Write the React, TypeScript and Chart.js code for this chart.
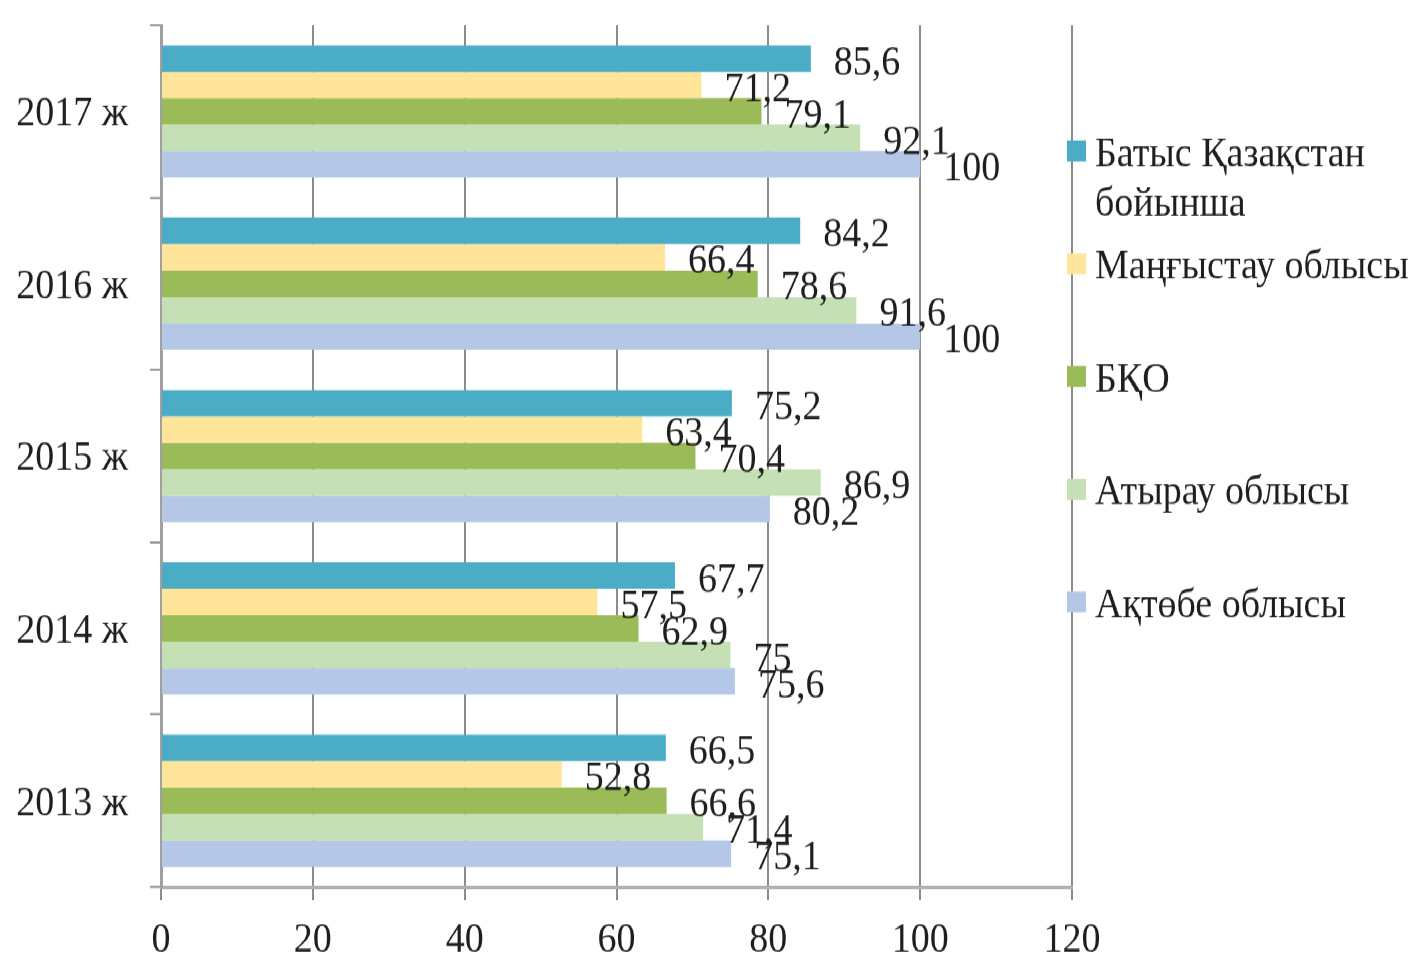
import React, { useEffect, useRef } from 'react';
import { Chart, registerables } from 'chart.js';

Chart.register(...registerables);

const W = 1416;
const H = 867;
const SCALE_Y = 954 / H;

const categories = ['2017 ж', '2016 ж', '2015 ж', '2014 ж', '2013 ж'];
const seriesNames: string[][] = [
  ['Батыс Қазақстан', 'бойынша'],
  ['Маңғыстау облысы'],
  ['БҚО'],
  ['Атырау облысы'],
  ['Ақтөбе облысы'],
];
const batys = [85.6, 84.2, 75.2, 67.7, 66.5];
const mangystau = [71.2, 66.4, 63.4, 57.5, 52.8];
const bko = [79.1, 78.6, 70.4, 62.9, 66.6];
const atyrau = [92.1, 91.6, 86.9, 75, 71.4];
const aktobe = [100, 100, 80.2, 75.6, 75.1];
const seriesValues = [batys, mangystau, bko, atyrau, aktobe];
const colors = ['#4BACC6', '#FFE599', '#9BBB59', '#C5E0B4', '#B4C7E7'];
const xMin = 0;
const xMax = 120;
const xStep = 20;

const FONT = '"Liberation Serif", "Times New Roman", serif';
const FONT_SIZE = 38;
const TEXT_COLOR = '#1e1e1e';

const valueLabels = {
  id: 'valueLabels',
  afterDatasetsDraw(chart: any) {
    const { ctx } = chart;
    ctx.save();
    ctx.font = `${FONT_SIZE}px ${FONT}`;
    ctx.fillStyle = TEXT_COLOR;
    ctx.textAlign = 'left';
    ctx.textBaseline = 'alphabetic';
    chart.data.datasets.forEach((ds: any, di: number) => {
      const meta = chart.getDatasetMeta(di);
      meta.data.forEach((el: any, i: number) => {
        const v = ds.data[i] as number;
        const t = String(v).replace('.', ',');
        ctx.fillText(t, el.x + 23, el.y + 14.5);
      });
    });
    ctx.restore();
  },
};

const sideLegend = {
  id: 'sideLegend',
  afterDraw(chart: any) {
    const { ctx } = chart;
    ctx.save();
    ctx.font = `${FONT_SIZE}px ${FONT}`;
    ctx.textAlign = 'left';
    ctx.textBaseline = 'alphabetic';
    seriesNames.forEach((lines, i) => {
      const cy = (151 + i * 112.75) / SCALE_Y;
      ctx.fillStyle = colors[i];
      ctx.fillRect(1067, cy - 9.5, 19, 19);
      ctx.fillStyle = TEXT_COLOR;
      lines.forEach((ln, j) => {
        ctx.fillText(ln, 1095, cy + 13.6 + (j * 50) / SCALE_Y);
      });
    });
    ctx.restore();
  },
};

export default function App() {
  const ref = useRef<HTMLCanvasElement>(null);
  useEffect(() => {
    const canvas = ref.current!;
    const chart = new Chart(canvas, {
      type: 'bar',
      data: {
        labels: categories,
        datasets: seriesValues.map((vals, i) => ({
          label: seriesNames[i].join(' '),
          data: vals,
          backgroundColor: colors[i],
          borderWidth: 0,
          categoryPercentage: 0.767,
          barPercentage: 1.0,
        })),
      },
      options: {
        indexAxis: 'y',
        responsive: false,
        animation: false,
        events: [],
        layout: { padding: { top: 23, right: W - 1072, left: 0, bottom: 0 } },
        plugins: {
          legend: { display: false },
          tooltip: { enabled: false },
          title: { display: false },
        },
        scales: {
          x: {
            min: xMin,
            max: xMax,
            ticks: {
              stepSize: xStep,
              font: { family: FONT, size: FONT_SIZE },
              color: TEXT_COLOR,
              padding: 14,
              maxRotation: 0,
            },
            grid: {
              color: '#8c8c8c',
              lineWidth: 2,
              tickLength: 12,
              drawOnChartArea: true,
            },
            border: { display: true, color: '#b0b0b0', width: 3 },
            afterFit: (scale: any) => {
              scale.height = H - 806;
              scale.paddingLeft = 0;
              scale.paddingRight = 0;
            },
          },
          y: {
            ticks: {
              font: { family: FONT, size: FONT_SIZE },
              color: TEXT_COLOR,
              padding: 22,
              labelOffset: 3,
            },
            grid: {
              offset: true,
              drawOnChartArea: false,
              color: '#9a9a9a',
              lineWidth: 2,
              tickLength: 11,
            },
            border: { display: true, color: '#a0a0a0', width: 3 },
            afterFit: (scale: any) => {
              scale.width = 161;
              scale.paddingTop = 0;
              scale.paddingBottom = 0;
            },
          },
        },
      } as any,
      plugins: [valueLabels, sideLegend],
    });
    return () => chart.destroy();
  }, []);

  return (
    <div
      style={{
        position: 'fixed',
        left: 0,
        top: 0,
        width: W,
        height: H,
        transform: `scaleY(${SCALE_Y})`,
        transformOrigin: '0 0',
        background: '#fff',
      }}
    >
      <canvas ref={ref} width={W} height={H} style={{ display: 'block' }} />
    </div>
  );
}
